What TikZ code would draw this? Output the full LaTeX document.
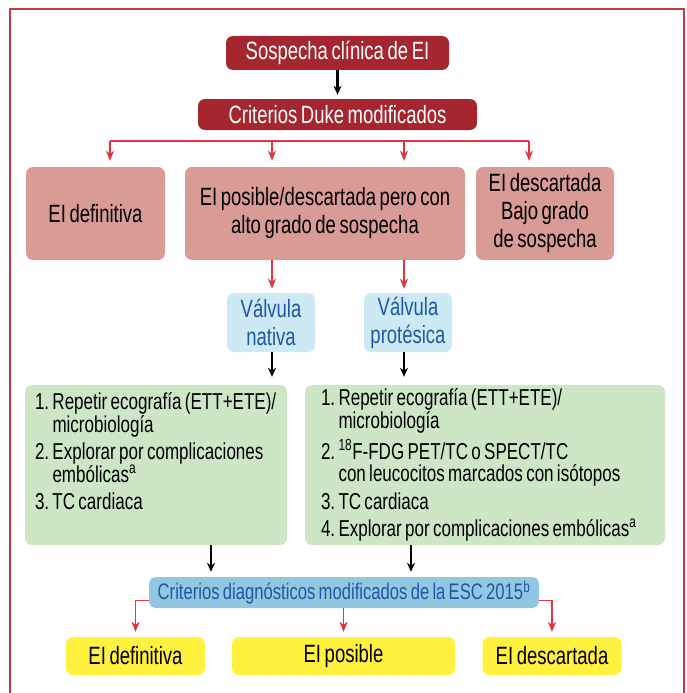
\documentclass[tikz,border=0pt]{standalone}
\usepackage{fontspec}
\setmainfont{Liberation Sans}[FakeStretch=0.74, WordSpace=0.7]
\usetikzlibrary{arrows.meta}
\definecolor{darkred}{HTML}{A5262F}
\definecolor{framered}{HTML}{C43A45}
\definecolor{linered}{HTML}{E2333F}
\definecolor{rosebox}{HTML}{D99B96}
\definecolor{paleblue}{HTML}{CDE9F3}
\definecolor{textblue}{HTML}{1F58A6}
\definecolor{palegreen}{HTML}{CDE6C6}
\definecolor{escblue}{HTML}{93C7E1}
\definecolor{yellowbox}{HTML}{FFF13D}
\frenchspacing
\begin{document}
\begin{tikzpicture}[x=1pt, y=-1pt,
    box/.style={rounded corners=7pt, inner sep=0pt, align=center},
    titlebox/.style={box, fill=darkred, text=white, font=\fontsize{25}{28}\selectfont},
    resultbox/.style={box, fill=rosebox, font=\fontsize{25}{28}\selectfont},
    valvebox/.style={box, fill=paleblue, text=textblue, font=\fontsize{25}{28}\selectfont},
    stepsbox/.style={box, fill=palegreen, align=flush left, font=\fontsize{23}{22.5}\selectfont},
    escbox/.style={box, fill=escblue, text=textblue, font=\fontsize{22.5}{24}\selectfont},
    finalbox/.style={box, fill=yellowbox, font=\fontsize{25}{28}\selectfont},
    blackarrow/.style={line width=2.2pt, -{Stealth[length=9pt, width=8pt]}},
    redarrow/.style={linered, line width=1.6pt, -{Stealth[length=10pt, width=8pt, inset=3pt]}},
    redline/.style={linered, line width=2.2pt}
]
\useasboundingbox (0,0) rectangle (686,693);
% marco
\draw[framered, line width=1.5pt] (10,700) -- (10,9) -- (684,9) -- (684,700);

% cabecera
\node[titlebox, minimum width=223pt, minimum height=34pt] (sosp) at (337.5,53) {Sospecha clínica de EI};
\node[titlebox, minimum width=279pt, minimum height=31pt] (duke) at (337.5,114.5) {Criterios Duke modificados};
\draw[blackarrow, shorten >=4pt] (sosp) -- (duke);

% resultados Duke
\node[resultbox, minimum width=139pt, minimum height=93pt] (def) at (95.5,213.5) {EI definitiva};
\node[resultbox, minimum width=280pt, minimum height=93pt] (pos) at (325,213.5) {EI posible/descartada pero con\\alto grado de sospecha};
\node[resultbox, minimum width=138pt, minimum height=93pt] (desc) at (545,213.5) {EI descartada\\Bajo grado\\de sospecha};

\coordinate (bl) at (110,141);
\coordinate (c1) at (272,141);
\coordinate (c2) at (404,141);
\coordinate (br) at (529,141);
\draw[redline] (bl) -- (br);
\foreach \c in {bl, c1, c2, br}
    \draw[redarrow, shorten >=6pt] (\c) -- (\c |- pos.north);

% valvulas
\node[valvebox, minimum width=88pt, minimum height=59pt] (nat) at (271,322.5) {Válvula\\nativa};
\node[valvebox, minimum width=88pt, minimum height=59pt] (pro) at (408,322.5) {Válvula\\protésica};
\draw[redarrow, shorten >=4pt] (c1 |- pos.south) -- (c1 |- nat.north);
\draw[redarrow, shorten >=4pt] (c2 |- pos.south) -- (c2 |- pro.north);

% pasos
\node[stepsbox, text width=242pt, inner xsep=10pt, minimum height=160pt] (gl) at (156,465) {%
    1. Repetir ecografía (ETT+ETE)/\\
    \phantom{1. }microbiología\\[5pt]
    2. Explorar por complicaciones\\
    \phantom{2. }embólicas\textsuperscript{a}\\[5pt]
    3. TC cardiaca\\[5pt]
    \mbox{}};
\node[stepsbox, text width=328pt, inner xsep=16pt, minimum height=160pt] (gr) at (485,465) {%
    1. Repetir ecografía (ETT+ETE)/\\
    \phantom{1. }microbiología\\[5pt]
    2. \textsuperscript{18}F-FDG PET/TC o SPECT/TC\\
    \phantom{2. }con leucocitos marcados con isótopos\\[5pt]
    3. TC cardiaca\\[5pt]
    4. Explorar por complicaciones embólicas\textsuperscript{a}};
\draw[blackarrow, shorten >=8pt] (c1 |- nat.south) -- (c1 |- gl.north);
\draw[blackarrow, shorten >=8pt] (c2 |- pro.south) -- (c2 |- gr.north);

% criterios ESC
\node[escbox, minimum width=390pt, minimum height=31pt] (esc) at (344,592.5) {Criterios diagnósticos modificados de la ESC 2015\textsuperscript{b}};
\coordinate (e1) at (211,545);
\coordinate (e2) at (411,545);
\draw[blackarrow, shorten >=5pt] (e1) -- (e1 |- esc.north);
\draw[blackarrow, shorten >=5pt] (e2) -- (e2 |- esc.north);

% resultado final
\node[finalbox, minimum width=139pt, minimum height=38pt] (yd) at (135.5,656) {EI definitiva};
\node[finalbox, minimum width=223pt, minimum height=38pt] (yp) at (343.5,656) {EI posible};
\node[finalbox, minimum width=139pt, minimum height=38pt] (yx) at (552,656) {EI descartada};
\draw[redarrow, shorten >=5pt] ([yshift=-8pt]esc.west) -| (yd.north);
\draw[redarrow, shorten >=5pt] (yp.north |- esc.south) -- (yp.north);
\draw[redarrow, shorten >=5pt] ([yshift=-8pt]esc.east) -| (yx.north);
\end{tikzpicture}
\end{document}
